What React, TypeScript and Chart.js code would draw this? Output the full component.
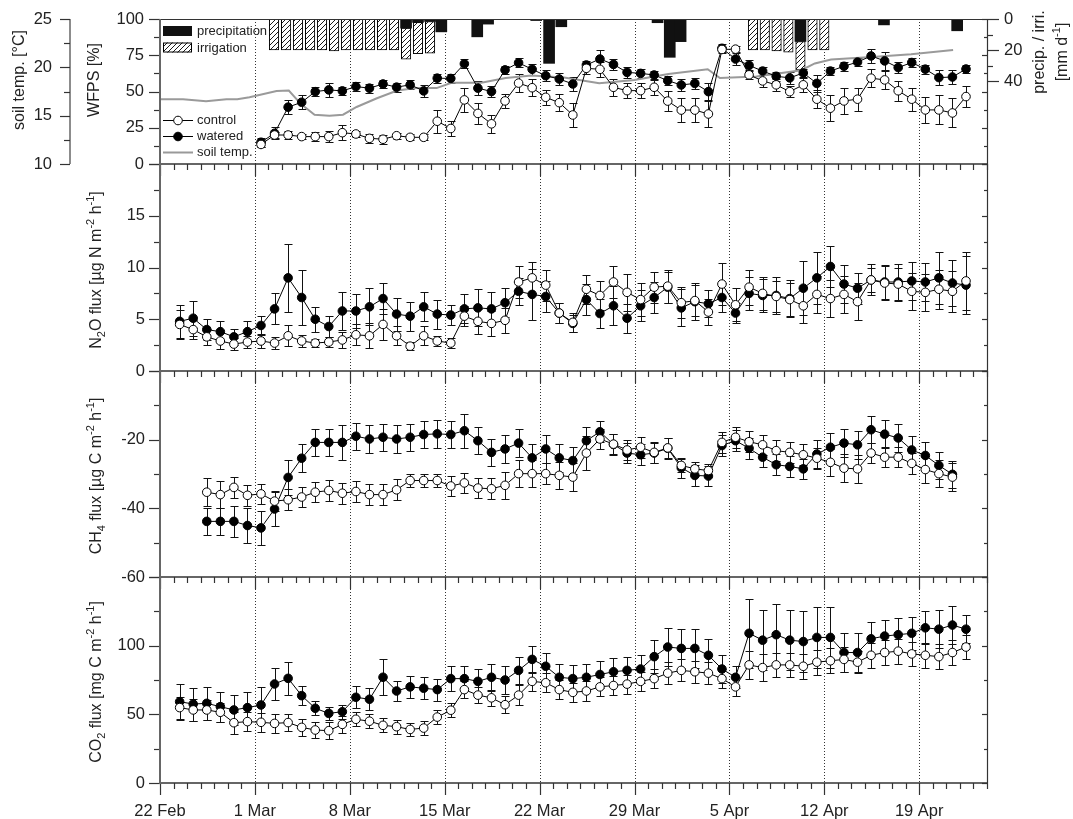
import React, { useEffect, useRef } from 'react';
import { Chart, registerables } from 'chart.js';

Chart.register(...registerables);

// ---------------- DATA ----------------
const dateLabels = ['22 Feb', '1 Mar', '8 Mar', '15 Mar', '22 Mar', '29 Mar', '5 Apr', '12 Apr', '19 Apr'];
const dateLabelDays = [0, 7, 14, 21, 28, 35, 42, 49, 56];
const dayMax = 61; // 24 Apr
const sampleOffset = 0.45; // time of day of the measurements

// WFPS [%], daily from day 7 (1 Mar)
const wfpsFirstDay = 7;
const wfpsControl = [13.5, 20, 20, 18.9, 18.9, 18.9, 21.6, 20.7, 17.7, 17.1,
  19.5, 18.4, 18.4, 29.5, 24.5, 44.2, 34.9, 27.7, 43.5, 55.8,
  52.6, 46.0, 42.3, 33.8, 66.0, 65.3, 52.9, 50.6, 50.6, 52.9,
  43.4, 37.2, 37.2, 34.5, 79.0, 79.2, 61.5, 57.3, 54.6, 49.9,
  54.6, 44.7, 38.5, 43.5, 44.7, 59.2, 58.0, 50.5, 44.7, 37.3,
  37.3, 35.2, 46.5];
const wfpsControlErr = [2, 2, 3, 2, 3, 4, 5, 2, 3, 3,
  2, 2, 2, 8, 5, 8, 7, 6, 5, 6,
  6, 5, 6, 8, 4, 5, 6, 5, 5, 5,
  7, 8, 8, 9, 2, 2, 3, 4, 4, 4,
  5, 6, 9, 9, 8, 6, 6, 7, 8, 9,
  10, 10, 7];
const wfpsWatered = [15.0, 21.2, 39.2, 42.6, 49.9, 51.1, 50.4, 53.4, 52.3, 55.2,
  53.0, 54.6, 50.4, 59.2, 59.0, 69.1, 52.3, 50.0, 64.9, 69.8,
  65.3, 60.9, 58.6, 55.2, 68.3, 72.4, 68.7, 63.2, 62.5, 61.4,
  57.5, 54.5, 55.6, 49.9, 79.8, 72.4, 68.0, 64.1, 60.5, 59.4,
  62.8, 55.6, 64.1, 67.4, 70.3, 74.5, 71.1, 66.5, 70.0, 65.4,
  59.6, 60.0, 65.5];
const wfpsWateredErr = [3, 4, 5, 5, 3, 5, 3, 3, 3, 3,
  3, 3, 4, 3, 3, 3, 5, 4, 3, 3,
  4, 4, 4, 5, 3, 6, 4, 4, 3, 3,
  3, 4, 4, 6, 3, 4, 4, 3, 3, 4,
  3, 6, 3, 3, 3, 5, 6, 4, 3, 3,
  5, 5, 3];

// soil temperature [°C]
const soilTempDays = [0, 1.7, 3.4, 4.9, 5.7, 6.6, 8.6, 9.5, 10.4, 11.4, 12.5, 13.5, 14.5, 16.0, 17.5, 18.9, 20.4,
  21.5, 23.7, 25.5, 27.4, 29.8, 32.4, 35.0, 37.5, 40.4, 41.3, 44.0, 47.3, 48.3, 49.5, 52.8, 55.4, 58.5];
const soilTemp = [16.7, 16.7, 16.5, 16.7, 16.7, 16.9, 17.55, 17.6, 16.2, 15.1, 15.0, 15.1, 15.9, 16.8, 17.6, 17.85, 17.85,
  18.4, 18.4, 18.9, 19.15, 18.95, 18.35, 18.7, 19.3, 19.8, 18.9, 19.05, 19.7, 20.4, 20.8, 21.1, 21.35, 21.8];

// precipitation / irrigation [mm d-1]
const irrigationDays = [8.41, 9.30, 10.18, 11.07, 11.95, 12.84, 13.72, 14.61, 15.49, 16.38, 17.26, 18.15, 19.03, 19.92,
  43.74, 44.61, 45.48, 46.35, 47.24, 48.13, 49.0];
const irrigation = [20, 20, 20, 20, 20, 20.6, 20, 20, 20, 20, 20, 20, 20.2, 20.4,
  19.9, 19.9, 20.6, 21.4, 18.4, 19.9, 19.9];
const precipDays = [18.15, 19.03, 19.92, 20.75, 23.4, 24.2, 27.75, 28.7, 29.6, 36.7, 37.6, 38.4, 47.24, 53.4, 58.8];
const precipitation = [5.9, 2.2, 1.6, 8.3, 11.5, 3.3, 1.0, 28.6, 5.0, 2.4, 24.7, 14.6, 14.5, 3.8, 7.6];

// N2O flux [µg N m-2 h-1], daily from day 1
const n2oFirstDay = 1;
const n2oControl = [4.5, 4.0, 3.3, 2.9, 2.6, 2.8, 2.9, 2.7, 3.4, 2.9,
  2.7, 2.8, 3.0, 3.5, 3.4, 4.5, 3.4, 2.4, 3.4, 2.9,
  2.7, 5.3, 4.8, 4.6, 4.9, 8.6, 9.0, 8.3, 5.6, 4.7,
  7.9, 7.3, 8.6, 7.6, 6.9, 8.1, 8.2, 6.6, 6.8, 5.7,
  8.4, 6.4, 8.1, 7.5, 7.2, 6.9, 6.3, 7.4, 7.0, 7.4,
  6.7, 8.8, 8.5, 8.4, 7.7, 7.6, 7.9, 7.7, 8.7];
const n2oControlErr = [1.4, 0.9, 0.8, 0.8, 0.6, 0.6, 0.7, 0.6, 1.0, 0.6,
  0.4, 0.5, 0.8, 1.0, 1.2, 1.5, 0.9, 0.4, 0.9, 0.5,
  0.5, 1.0, 1.2, 1.2, 1.2, 1.5, 1.5, 1.5, 1.0, 0.9,
  1.4, 1.4, 1.5, 1.8, 1.6, 1.5, 1.6, 1.5, 1.5, 1.3,
  2.0, 1.6, 1.7, 1.6, 1.5, 1.6, 1.7, 1.8, 1.8, 1.8,
  1.8, 1.5, 1.6, 1.6, 1.8, 1.8, 1.9, 2.0, 2.8];
const n2oWatered = [4.8, 5.1, 4.0, 3.8, 3.3, 3.8, 4.4, 6.0, 9.0, 7.1,
  5.0, 4.3, 5.8, 5.8, 6.2, 7.0, 5.5, 5.3, 6.2, 5.5,
  5.4, 6.0, 6.1, 6.0, 6.6, 7.7, 7.4, 7.2, 5.6, 4.6,
  6.9, 5.55, 6.3, 5.1, 6.3, 7.1, 8.1, 6.1, 6.7, 6.5,
  7.1, 5.6, 7.5, 7.3, 7.3, 7.0, 8.0, 9.0, 10.1, 8.4,
  8.0, 8.8, 8.6, 8.6, 8.7, 8.6, 9.0, 8.5, 8.3];
const n2oWateredErr = [1.6, 1.7, 1.0, 1.0, 0.8, 1.0, 0.9, 1.5, 3.3, 2.7,
  1.2, 1.0, 1.8, 1.6, 1.8, 1.5, 1.6, 1.4, 1.4, 1.4,
  1.0, 1.4, 1.8, 1.6, 1.4, 1.3, 2.5, 1.5, 1.0, 0.8,
  1.5, 1.4, 1.9, 1.4, 1.5, 1.5, 1.5, 1.8, 1.8, 1.3,
  1.4, 1.0, 1.6, 1.6, 1.8, 1.8, 2.6, 2.5, 2.0, 1.8,
  1.5, 1.2, 1.6, 1.7, 1.8, 1.8, 2.5, 2.2, 2.8];

// CH4 flux [µg C m-2 h-1], daily from day 3
const ch4FirstDay = 3;
const ch4Control = [-35.3, -36.0, -33.9, -36.2, -35.8, -37.9, -37.5, -36.7, -35.3, -34.8,
  -35.6, -35.1, -36.0, -36.0, -34.6, -31.9, -31.9, -31.9, -33.5, -32.6,
  -34.1, -34.3, -33.3, -29.9, -29.9, -29.9, -30.4, -30.9, -23.9, -19.8,
  -21.3, -23.0, -22.2, -23.7, -22.4, -27.5, -28.5, -29.0, -20.8, -19.3,
  -20.6, -21.5, -23.2, -23.7, -24.4, -25.4, -26.6, -28.3, -28.5, -23.9,
  -25.1, -25.1, -26.9, -28.7, -29.9, -30.9];
const ch4ControlErr = [4, 4, 3, 3, 3, 3, 3, 3, 3, 3,
  3, 3, 3, 3, 3, 2, 2, 2, 3, 3,
  3, 3, 4, 4, 4, 3, 4, 4, 5, 3,
  3, 3, 3, 3, 3, 2, 2, 2, 3, 3,
  3, 3, 3, 3, 3, 3, 4, 4, 4, 3,
  3, 3, 3, 4, 4, 4];
const ch4Watered = [-43.8, -43.8, -43.8, -45.0, -45.7, -40.2, -31.0, -25.4, -20.8, -20.8,
  -20.8, -19.0, -19.8, -19.3, -19.8, -19.3, -18.5, -18.3, -18.5, -17.4,
  -20.3, -23.7, -22.7, -21.0, -25.3, -22.7, -25.3, -26.1, -20.3, -17.7,
  -21.4, -23.9, -24.4, -23.9, -22.5, -28.2, -30.4, -30.6, -21.7, -20.3,
  -22.5, -25.1, -27.3, -27.8, -28.5, -24.2, -22.2, -21.0, -21.5, -17.1,
  -18.4, -19.5, -23.0, -24.6, -27.5, -30.1];
const ch4WateredErr = [4, 4, 4.5, 5, 5, 5, 5, 4, 4, 4,
  5, 4, 4, 4, 4, 4, 4, 4, 4, 5,
  4, 4, 4, 4, 4, 4, 4, 4, 4, 3,
  3, 3, 3, 3, 3, 3, 3, 3, 3, 3,
  3, 3, 3, 3, 3, 4, 4, 4, 4, 4,
  4, 4, 4, 4, 4, 4];

// CO2 flux [mg C m-2 h-1], daily from day 1
const co2FirstDay = 1;
const co2Control = [54.9, 53.2, 53.2, 51.5, 43.9, 44.7, 44.2, 43.4, 44.0, 40.5,
  38.6, 38.1, 42.7, 46.4, 45, 42, 41, 39, 40, 48,
  53, 68, 64, 62, 57, 64, 74, 73, 68, 66,
  67, 70, 71, 72, 74, 76, 80, 82, 81, 80,
  76, 70, 86, 84, 86, 86, 85, 88, 89, 90,
  88, 93, 95, 96, 94, 93, 92, 95, 99];
const co2ControlErr = [8, 8, 7, 7, 8, 7, 7, 7, 6, 6,
  6, 6, 6, 5, 5, 5, 5, 5, 5, 5,
  5, 6, 6, 6, 6, 7, 7, 7, 7, 7,
  7, 7, 7, 7, 7, 7, 8, 8, 8, 8,
  7, 7, 10, 10, 9, 9, 9, 9, 9, 9,
  8, 9, 9, 9, 9, 9, 9, 9, 9];
const co2Watered = [59.2, 57.5, 58.0, 55.6, 53.2, 54.9, 56.8, 72.1, 76.2, 63.6,
  54.4, 50.7, 51.9, 62.4, 61, 77, 67, 70, 69, 68,
  76, 76, 74, 77, 75, 82, 90, 85, 77, 76,
  77, 79, 81, 82, 83, 92, 99, 98, 98, 93,
  83, 77, 109, 104, 108, 104, 103, 106, 106, 95,
  95, 105, 107, 108, 109, 113, 112, 115, 112];
const co2WateredErr = [13, 12, 12, 11, 11, 11, 13, 12, 12, 7,
  5, 5, 5, 8, 8, 13, 7, 8, 8, 8,
  9, 9, 9, 10, 10, 10, 10, 10, 10, 10,
  10, 10, 10, 10, 10, 12, 14, 14, 14, 12,
  10, 8, 25, 22, 22, 22, 22, 22, 22, 14,
  14, 12, 12, 12, 12, 12, 14, 14, 10];

// ---------------- LAYOUT / STYLE ----------------
const W = 1073;
const H = 819;
const FONT = '"Liberation Sans", Arial, Helvetica, sans-serif';
const TICK_FONT = { family: FONT, size: 16.5 };
const TEXT = '#222';
const RIGHT_PAD = 86;
const PRECIP_AXIS_MAX = 93.5;

type Part = { t: string; s?: 'sub' | 'sup' };

function drawRich(ctx: CanvasRenderingContext2D, parts: Part[], cx: number, cy: number, size: number, rotate: boolean) {
  ctx.save();
  ctx.translate(cx, cy);
  if (rotate) ctx.rotate(-Math.PI / 2);
  const small = Math.round(size * 0.66);
  let w = 0;
  for (const p of parts) {
    ctx.font = `${p.s ? small : size}px ${FONT}`;
    w += ctx.measureText(p.t).width;
  }
  let x = -w / 2;
  ctx.textBaseline = 'middle';
  ctx.textAlign = 'left';
  ctx.fillStyle = TEXT;
  for (const p of parts) {
    ctx.font = `${p.s ? small : size}px ${FONT}`;
    const dy = p.s === 'sub' ? size * 0.32 : p.s === 'sup' ? -size * 0.36 : 0;
    ctx.fillText(p.t, x, dy);
    x += ctx.measureText(p.t).width;
  }
  ctx.restore();
}

function series(firstDay: number, values: number[]) {
  return values.map((v, i) => ({ x: firstDay + i + sampleOffset, y: v }));
}

function lineDs(label: string, firstDay: number, values: number[], errs: number[], filled: boolean, yAxisID: string) {
  return {
    type: 'line',
    label,
    data: series(firstDay, values),
    errorBars: errs,
    yAxisID,
    xAxisID: 'x',
    borderColor: '#000',
    borderWidth: 1,
    pointRadius: 4.3,
    pointBorderWidth: 1,
    pointBackgroundColor: filled ? '#000' : '#fff',
    pointBorderColor: '#000',
    pointStyle: 'circle',
    fill: false,
    tension: 0,
  };
}

function fixedTicks(values: number[]) {
  return (s: any) => {
    s.ticks = values.map((v) => ({ value: v }));
  };
}

// label offset is produced through an invisible tick mark so that Chart.js
// does not add the label padding to the chart-area margins
function hiddenGrid(len: number) {
  return { display: false, drawTicks: true, tickLength: len, tickColor: 'rgba(0,0,0,0)' };
}

function yAxis(min: number, max: number, labels: number[], width: number, gap: number, extra: any = {}) {
  return {
    type: 'linear',
    position: 'left',
    min,
    max,
    afterBuildTicks: fixedTicks(labels),
    afterFit: (s: any) => {
      s.width = width;
    },
    grid: hiddenGrid(gap),
    border: { display: false },
    ticks: { autoSkip: false, padding: 0, font: TICK_FONT, color: TEXT },
    ...extra,
  };
}

const hiddenX = { type: 'linear', min: 0, max: dayMax, offset: false, display: false };

type PanelSpec = {
  top: number;
  bottom: number;
  yId: string;
  majors: number[];
  minors: number[];
  frameTop: boolean;
  titles: { parts: Part[]; x: number; y: number }[];
  extra?: (chart: any, ctx: CanvasRenderingContext2D) => void;
};

function hline(ctx: CanvasRenderingContext2D, x1: number, x2: number, y: number) {
  ctx.beginPath();
  ctx.moveTo(x1, y);
  ctx.lineTo(x2, y);
  ctx.stroke();
}
function vline(ctx: CanvasRenderingContext2D, x: number, y1: number, y2: number) {
  ctx.beginPath();
  ctx.moveTo(x, y1);
  ctx.lineTo(x, y2);
  ctx.stroke();
}

function makePlugin(spec: PanelSpec, key: string) {
  return {
    id: 'panel_' + key,
    beforeDatasetsDraw(chart: any) {
      const ctx: CanvasRenderingContext2D = chart.ctx;
      const a = chart.chartArea;
      const xs = chart.scales.x;
      ctx.save();
      ctx.strokeStyle = '#333';
      ctx.lineWidth = 1;
      ctx.setLineDash([1, 2]);
      for (const d of dateLabelDays) {
        if (d === 0) continue;
        const px = Math.round(xs.getPixelForValue(d)) + 0.5;
        vline(ctx, px, a.top, a.bottom);
      }
      ctx.setLineDash([]);
      ctx.beginPath();
      ctx.rect(a.left, a.top, a.right - a.left, a.bottom - a.top);
      ctx.clip();
      ctx.strokeStyle = '#111';
      ctx.lineWidth = 1;
      chart.data.datasets.forEach((ds: any, i: number) => {
        if (!ds.errorBars) return;
        const meta = chart.getDatasetMeta(i);
        const ys = chart.scales[ds.yAxisID];
        ds.data.forEach((p: any, j: number) => {
          const e = ds.errorBars[j];
          const el = meta.data[j];
          if (!el || e == null) return;
          const x = Math.round(el.x) + 0.5;
          const y1 = Math.round(ys.getPixelForValue(p.y + e)) + 0.5;
          const y2 = Math.round(ys.getPixelForValue(p.y - e)) + 0.5;
          ctx.beginPath();
          ctx.moveTo(x, y1);
          ctx.lineTo(x, y2);
          ctx.moveTo(x - 4, y1);
          ctx.lineTo(x + 4, y1);
          ctx.moveTo(x - 4, y2);
          ctx.lineTo(x + 4, y2);
          ctx.stroke();
        });
      });
      ctx.restore();
    },
    afterDatasetsDraw(chart: any) {
      const ctx: CanvasRenderingContext2D = chart.ctx;
      const a = chart.chartArea;
      const xs = chart.scales.x;
      const ys = chart.scales[spec.yId];
      ctx.save();
      // frame
      ctx.strokeStyle = '#333';
      ctx.lineWidth = 1.2;
      vline(ctx, a.right + 0.5, a.top, a.bottom);
      if (spec.frameTop) hline(ctx, a.left, a.right, a.top + 0.5);
      ctx.lineWidth = 1.5;
      hline(ctx, a.left, a.right + 0.5, a.bottom);
      // x ticks (daily, weekly long)
      ctx.lineWidth = 1.2;
      for (let d = 0; d <= dayMax; d++) {
        const px = Math.round(xs.getPixelForValue(d)) + 0.5;
        const len = dateLabelDays.indexOf(d) >= 0 ? 12 : 6;
        vline(ctx, px, a.bottom, a.bottom + len);
      }
      // y ticks
      for (const v of spec.majors) {
        const py = Math.round(ys.getPixelForValue(v)) + 0.5;
        hline(ctx, a.left - 11, a.left, py);
        hline(ctx, a.right - 5, a.right, py);
      }
      for (const v of spec.minors) {
        const py = Math.round(ys.getPixelForValue(v)) + 0.5;
        hline(ctx, a.left - 6, a.left, py);
        hline(ctx, a.right - 3, a.right, py);
      }
      // left axis line
      ctx.strokeStyle = '#666';
      ctx.lineWidth = 2;
      vline(ctx, a.left, a.top, a.bottom + 1);
      if (spec.extra) spec.extra(chart, ctx);
      for (const t of spec.titles) drawRich(ctx, t.parts, t.x, t.y, 16, true);
      ctx.restore();
    },
  };
}

const soilTitle: Part[] = [{ t: 'soil temp. [°C]' }];
const wfpsTitle: Part[] = [{ t: 'WFPS [%]' }];
const precipTitle1: Part[] = [{ t: 'precip. / irri.' }];
const precipTitle2: Part[] = [{ t: '[mm d' }, { t: '-1', s: 'sup' }, { t: ']' }];
const n2oTitle: Part[] = [{ t: 'N' }, { t: '2', s: 'sub' }, { t: 'O flux [µg N m' }, { t: '-2', s: 'sup' }, { t: ' h' }, { t: '-1', s: 'sup' }, { t: ']' }];
const ch4Title: Part[] = [{ t: 'CH' }, { t: '4', s: 'sub' }, { t: ' flux [µg C m' }, { t: '-2', s: 'sup' }, { t: ' h' }, { t: '-1', s: 'sup' }, { t: ']' }];
const co2Title: Part[] = [{ t: 'CO' }, { t: '2', s: 'sub' }, { t: ' flux [mg C m' }, { t: '-2', s: 'sup' }, { t: ' h' }, { t: '-1', s: 'sup' }, { t: ']' }];

function makeHatch(): any {
  const c = document.createElement('canvas');
  c.width = 5;
  c.height = 5;
  const g = c.getContext('2d')!;
  g.fillStyle = '#fff';
  g.fillRect(0, 0, 5, 5);
  g.strokeStyle = '#000';
  g.lineWidth = 0.9;
  g.beginPath();
  g.moveTo(0, 5);
  g.lineTo(5, 0);
  g.moveTo(-1, 1);
  g.lineTo(1, -1);
  g.moveTo(4, 6);
  g.lineTo(6, 4);
  g.stroke();
  return g.createPattern(c, 'repeat');
}

function baseOptions(padding: any, scales: any) {
  return {
    responsive: false,
    maintainAspectRatio: false,
    animation: false,
    devicePixelRatio: 1,
    events: [],
    layout: { padding },
    scales,
    plugins: { legend: { display: false }, tooltip: { enabled: false }, title: { display: false } },
  };
}

function buildConfigs(hatch: any) {
  const configs: any[] = [];

  // Panel 1: WFPS + soil temp + precipitation
  const p1: PanelSpec = {
    top: 19, bottom: 164, yId: 'yW',
    majors: [0, 25, 50, 75, 100], minors: [12.5, 37.5, 62.5, 87.5],
    frameTop: true,
    titles: [
      { parts: soilTitle, x: 20, y: 80 },
      { parts: wfpsTitle, x: 95, y: 80 },
    ],
    extra: (chart, ctx) => {
      const a = chart.chartArea;
      const yT = chart.scales.yT;
      const yP = chart.scales.yP;
      const ax = yT.right;
      ctx.strokeStyle = '#666';
      ctx.lineWidth = 1.5;
      vline(ctx, ax, a.top, a.bottom);
      ctx.strokeStyle = '#333';
      ctx.lineWidth = 1.2;
      for (const v of [10, 15, 20, 25]) hline(ctx, ax - 10, ax, Math.round(yT.getPixelForValue(v)) + 0.5);
      for (const v of [12.5, 17.5, 22.5]) hline(ctx, ax - 6, ax, Math.round(yT.getPixelForValue(v)) + 0.5);
      for (const v of [0, 20, 40]) hline(ctx, a.right, a.right + 12, Math.round(yP.getPixelForValue(v)) + 0.5);
      for (const v of [10, 30]) hline(ctx, a.right, a.right + 6, Math.round(yP.getPixelForValue(v)) + 0.5);
      drawRich(ctx, precipTitle1, 1040, 52, 16, true);
      drawRich(ctx, precipTitle2, 1063, 52, 16, true);
      // legend: bars
      ctx.fillStyle = '#111';
      ctx.fillRect(163, 26, 29, 10);
      ctx.fillStyle = hatch;
      ctx.fillRect(163, 42.5, 29, 10);
      ctx.strokeStyle = '#000';
      ctx.lineWidth = 1;
      ctx.strokeRect(163.5, 43, 28, 9);
      ctx.fillStyle = TEXT;
      ctx.font = `13px ${FONT}`;
      ctx.textAlign = 'left';
      ctx.textBaseline = 'middle';
      ctx.fillText('precipitation', 197, 31.5);
      ctx.fillText('irrigation', 197, 48);
      // legend: lines
      const rows = [
        { y: 120.5, label: 'control', fill: '#fff', marker: true, color: '#000', w: 1 },
        { y: 136.5, label: 'watered', fill: '#000', marker: true, color: '#000', w: 1 },
        { y: 152.5, label: 'soil temp.', fill: '', marker: false, color: '#999', w: 2 },
      ];
      for (const r of rows) {
        ctx.strokeStyle = r.color;
        ctx.lineWidth = r.w;
        hline(ctx, 163, 193, r.y);
        if (r.marker) {
          ctx.beginPath();
          ctx.arc(178, r.y, 4.3, 0, Math.PI * 2);
          ctx.fillStyle = r.fill;
          ctx.fill();
          ctx.strokeStyle = '#000';
          ctx.lineWidth = 1;
          ctx.stroke();
        }
        ctx.fillStyle = TEXT;
        ctx.fillText(r.label, 197, r.y);
      }
    },
  };
  configs.push({
    type: 'line',
    data: {
      datasets: [
        lineDs('control', wfpsFirstDay, wfpsControl, wfpsControlErr, false, 'yW'),
        lineDs('watered', wfpsFirstDay, wfpsWatered, wfpsWateredErr, true, 'yW'),
        {
          type: 'line', label: 'soil temp.', yAxisID: 'yT', xAxisID: 'x',
          data: soilTempDays.map((d, i) => ({ x: d, y: soilTemp[i] })),
          borderColor: '#9a9a9a', borderWidth: 2, pointRadius: 0, fill: false, tension: 0,
        },
        {
          type: 'bar', label: 'precipitation', yAxisID: 'yP', xAxisID: 'x', stack: 'p',
          data: precipDays.map((d, i) => ({ x: d, y: precipitation[i] })),
          backgroundColor: '#111', borderColor: '#111', borderWidth: 0, barThickness: 11,
        },
        {
          type: 'bar', label: 'irrigation', yAxisID: 'yP', xAxisID: 'x', stack: 'p',
          data: irrigationDays.map((d, i) => ({ x: d, y: irrigation[i] })),
          backgroundColor: hatch, borderColor: '#000', borderWidth: 1, borderSkipped: false, barThickness: 9.5,
        },
      ],
    },
    options: baseOptions(
      { top: p1.top, bottom: H - p1.bottom, left: 0, right: 0 },
      {
        x: hiddenX,
        yT: yAxis(10, 25, [10, 15, 20, 25], 70, 18, { weight: 2 }),
        yW: yAxis(0, 100, [0, 25, 50, 75, 100], 90, 16, { weight: 1 }),
        yP: {
          type: 'linear', position: 'right', min: 0, max: PRECIP_AXIS_MAX, reverse: true,
          afterBuildTicks: fixedTicks([0, 20, 40]),
          afterFit: (s: any) => { s.width = RIGHT_PAD; },
          grid: hiddenGrid(17), border: { display: false },
          ticks: { autoSkip: false, padding: 0, font: TICK_FONT, color: TEXT },
        },
      },
    ),
    plugins: [makePlugin(p1, 'p1')],
  });

  // Panel 2: N2O
  const p2: PanelSpec = {
    top: 164, bottom: 371, yId: 'y',
    majors: [0, 5, 10, 15, 20], minors: [2.5, 7.5, 12.5, 17.5],
    frameTop: false,
    titles: [{ parts: n2oTitle, x: 97, y: 270 }],
  };
  configs.push({
    type: 'line',
    data: {
      datasets: [
        lineDs('control', n2oFirstDay, n2oControl, n2oControlErr, false, 'y'),
        lineDs('watered', n2oFirstDay, n2oWatered, n2oWateredErr, true, 'y'),
      ],
    },
    options: baseOptions(
      { top: p2.top, bottom: H - p2.bottom, left: 0, right: RIGHT_PAD },
      { x: hiddenX, y: yAxis(0, 20, [0, 5, 10, 15], 160, 15) },
    ),
    plugins: [makePlugin(p2, 'p2')],
  });

  // Panel 3: CH4
  const p3: PanelSpec = {
    top: 371, bottom: 577, yId: 'y',
    majors: [-60, -40, -20, 0], minors: [-50, -30, -10],
    frameTop: false,
    titles: [{ parts: ch4Title, x: 97, y: 476 }],
  };
  configs.push({
    type: 'line',
    data: {
      datasets: [
        lineDs('control', ch4FirstDay, ch4Control, ch4ControlErr, false, 'y'),
        lineDs('watered', ch4FirstDay, ch4Watered, ch4WateredErr, true, 'y'),
      ],
    },
    options: baseOptions(
      { top: p3.top, bottom: H - p3.bottom, left: 0, right: RIGHT_PAD },
      { x: hiddenX, y: yAxis(-60, 0, [-60, -40, -20], 160, 15) },
    ),
    plugins: [makePlugin(p3, 'p3')],
  });

  // Panel 4: CO2 with date axis
  const p4: PanelSpec = {
    top: 577, bottom: 783, yId: 'y',
    majors: [0, 50, 100, 150], minors: [25, 75, 125],
    frameTop: false,
    titles: [{ parts: co2Title, x: 97, y: 682 }],
  };
  configs.push({
    type: 'line',
    data: {
      datasets: [
        lineDs('control', co2FirstDay, co2Control, co2ControlErr, false, 'y'),
        lineDs('watered', co2FirstDay, co2Watered, co2WateredErr, true, 'y'),
      ],
    },
    options: baseOptions(
      { top: p4.top, bottom: 0, left: 0, right: RIGHT_PAD },
      {
        x: {
          type: 'linear', position: 'bottom', min: 0, max: dayMax, offset: false,
          afterBuildTicks: fixedTicks(dateLabelDays),
          afterFit: (s: any) => { s.height = H - p4.bottom; },
          grid: hiddenGrid(19), border: { display: false },
          ticks: {
            autoSkip: false, maxRotation: 0, minRotation: 0, padding: 0, font: TICK_FONT, color: TEXT,
            callback: (v: any) => {
              const k = dateLabelDays.indexOf(Number(v));
              return k >= 0 ? dateLabels[k] : '';
            },
          },
        },
        y: yAxis(0, 150, [0, 50, 100], 160, 15),
      },
    ),
    plugins: [makePlugin(p4, 'p4')],
  });

  return configs;
}

export default function App() {
  const hostRef = useRef<HTMLDivElement>(null);

  useEffect(() => {
    const host = hostRef.current;
    if (!host) return;
    Chart.defaults.font.family = FONT;
    Chart.defaults.color = TEXT;
    const hatch = makeHatch();
    const configs = buildConfigs(hatch);
    const canvases: HTMLCanvasElement[] = [];
    const charts: Chart[] = [];
    for (const cfg of configs) {
      const c = document.createElement('canvas');
      c.width = W;
      c.height = H;
      c.style.position = 'absolute';
      c.style.left = '0px';
      c.style.top = '0px';
      c.style.width = W + 'px';
      c.style.height = H + 'px';
      host.appendChild(c);
      canvases.push(c);
      charts.push(new Chart(c, cfg));
    }
    return () => {
      charts.forEach((ch) => ch.destroy());
      canvases.forEach((c) => c.remove());
    };
  }, []);

  return (
    <div
      ref={hostRef}
      style={{ position: 'fixed', left: 0, top: 0, width: W, height: H, background: '#fff', overflow: 'hidden' }}
    />
  );
}
